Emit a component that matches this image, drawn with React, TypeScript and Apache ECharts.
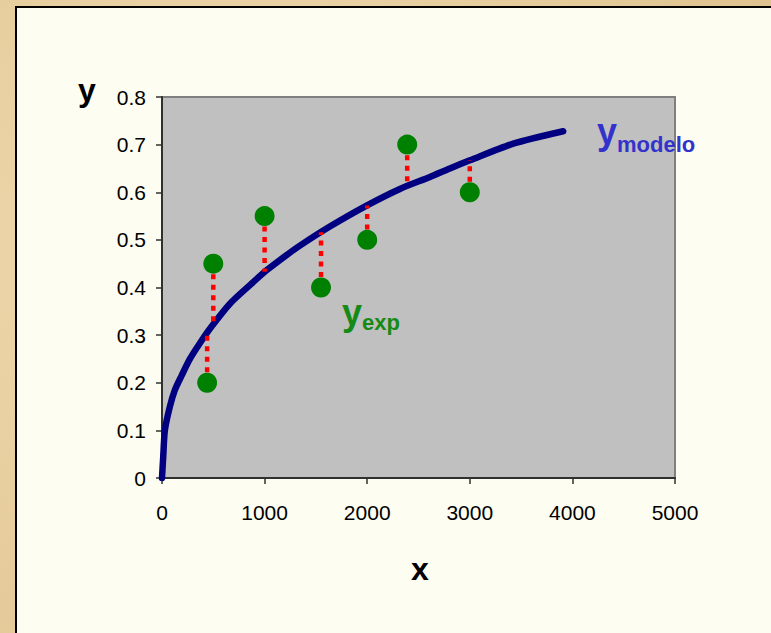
import React, { useEffect, useRef } from "react";
import * as echarts from "echarts";

// Model curve
const curveX = [0, 12, 28, 77, 126, 191, 272, 369, 483, 662, 857, 1019, 1214, 1344, 1636, 1994, 2319, 2611, 2806, 3001, 3423, 3910];
const curveY = [0, 0.045, 0.1, 0.15, 0.185, 0.215, 0.25, 0.283, 0.318, 0.366, 0.405, 0.436, 0.468, 0.488, 0.528, 0.572, 0.607, 0.632, 0.65, 0.667, 0.702, 0.728];

// Experimental points
const expX = [440, 500, 1000, 1550, 2000, 2390, 3000];
const expY = [0.2, 0.45, 0.55, 0.4, 0.5, 0.7, 0.6];
// Model value at each experimental x (end of residual segment)
const modelAtExp = [0.302, 0.32, 0.433, 0.516, 0.572, 0.614, 0.667];

const xTicks = [0, 1000, 2000, 3000, 4000, 5000];
const yTicks = [0, 0.1, 0.2, 0.3, 0.4, 0.5, 0.6, 0.7, 0.8];

const FONT = "'Liberation Sans', Arial, sans-serif";

export default function App() {
  const ref = useRef<HTMLDivElement>(null);
  useEffect(() => {
    if (!ref.current) return;
    const chart = echarts.init(ref.current, undefined, { renderer: "svg" });
    const residuals = expX.map((x, i) => ({
      type: "line",
      data: [
        [x, expY[i]],
        [x, modelAtExp[i]],
      ],
      showSymbol: false,
      symbol: "none",
      lineStyle: { color: "#ff0000", width: 4.5, type: [5, 5.5], cap: "butt" },
      z: 3,
      silent: true,
    }));
    chart.setOption({
      animation: false,
      backgroundColor: "transparent",
      grid: {
        left: 162,
        right: 96,
        top: 97,
        bottom: 155,
        show: true,
        backgroundColor: "#c0c0c0",
        borderColor: "#808080",
        borderWidth: 2,
      },
      xAxis: {
        type: "value",
        min: xTicks[0],
        max: xTicks[xTicks.length - 1],
        interval: 1000,
        axisLine: { show: true, onZero: false, lineStyle: { color: "#303030", width: 2 } },
        axisTick: { show: true, length: 6, lineStyle: { color: "#303030", width: 1.5 } },
        axisLabel: {
          color: "#000",
          fontSize: 21,
          fontFamily: FONT,
          margin: 24,
          formatter: (v: number) => String(v),
        },
        splitLine: { show: false },
      },
      yAxis: {
        type: "value",
        min: yTicks[0],
        max: yTicks[yTicks.length - 1],
        interval: 0.1,
        axisLine: { show: true, onZero: false, lineStyle: { color: "#303030", width: 2 } },
        axisTick: { show: true, length: 6, lineStyle: { color: "#303030", width: 1.5 } },
        axisLabel: {
          color: "#000",
          fontSize: 21,
          fontFamily: FONT,
          margin: 16,
          formatter: (v: number) => String(Math.round(v * 10) / 10),
        },
        splitLine: { show: false },
      },
      series: [
        {
          type: "line",
          name: "ymodelo",
          data: curveX.map((x, i) => [x, curveY[i]]),
          showSymbol: false,
          symbol: "none",
          smooth: 0.25,
          lineStyle: { color: "#000080", width: 6.5, cap: "round", join: "round" },
          z: 2,
        },
        ...residuals,
        {
          type: "scatter",
          name: "yexp",
          data: expX.map((x, i) => [x, expY[i]]),
          symbolSize: 20,
          itemStyle: { color: "#008000", opacity: 1 },
          z: 5,
        },
      ],
      graphic: [
        { type: "text", left: 78, top: 74, style: { text: "y", font: `bold 32px ${FONT}`, fill: "#000" } },
        { type: "text", left: 411, top: 553, style: { text: "x", font: `bold 32px ${FONT}`, fill: "#000" } },
        { type: "text", left: 597, top: 113, style: { text: "y", font: `bold 36px ${FONT}`, fill: "#3333cc" } },
        { type: "text", left: 617, top: 133, style: { text: "modelo", font: `bold 22px ${FONT}`, fill: "#3333cc" } },
        { type: "text", left: 342, top: 294, style: { text: "y", font: `bold 36px ${FONT}`, fill: "#168a16" } },
        { type: "text", left: 362, top: 311, style: { text: "exp", font: `bold 22px ${FONT}`, fill: "#168a16" } },
      ],
    });
    return () => chart.dispose();
  }, []);

  return (
    <div
      style={{
        position: "absolute",
        left: 0,
        top: 0,
        width: 771,
        height: 633,
        overflow: "hidden",
        background: "radial-gradient(circle at 30% 40%, #f0dcb3 0%, #e6cc9c 60%, #dcc08c 100%)",
      }}
    >
      <div
        style={{
          position: "absolute",
          left: 15,
          top: 6,
          width: 780,
          height: 660,
          background: "#fdfdf1",
          borderLeft: "2px solid #000",
          borderTop: "2px solid #000",
          boxSizing: "border-box",
        }}
      />
      <div ref={ref} style={{ position: "absolute", left: 0, top: 0, width: 771, height: 633 }} />
    </div>
  );
}
